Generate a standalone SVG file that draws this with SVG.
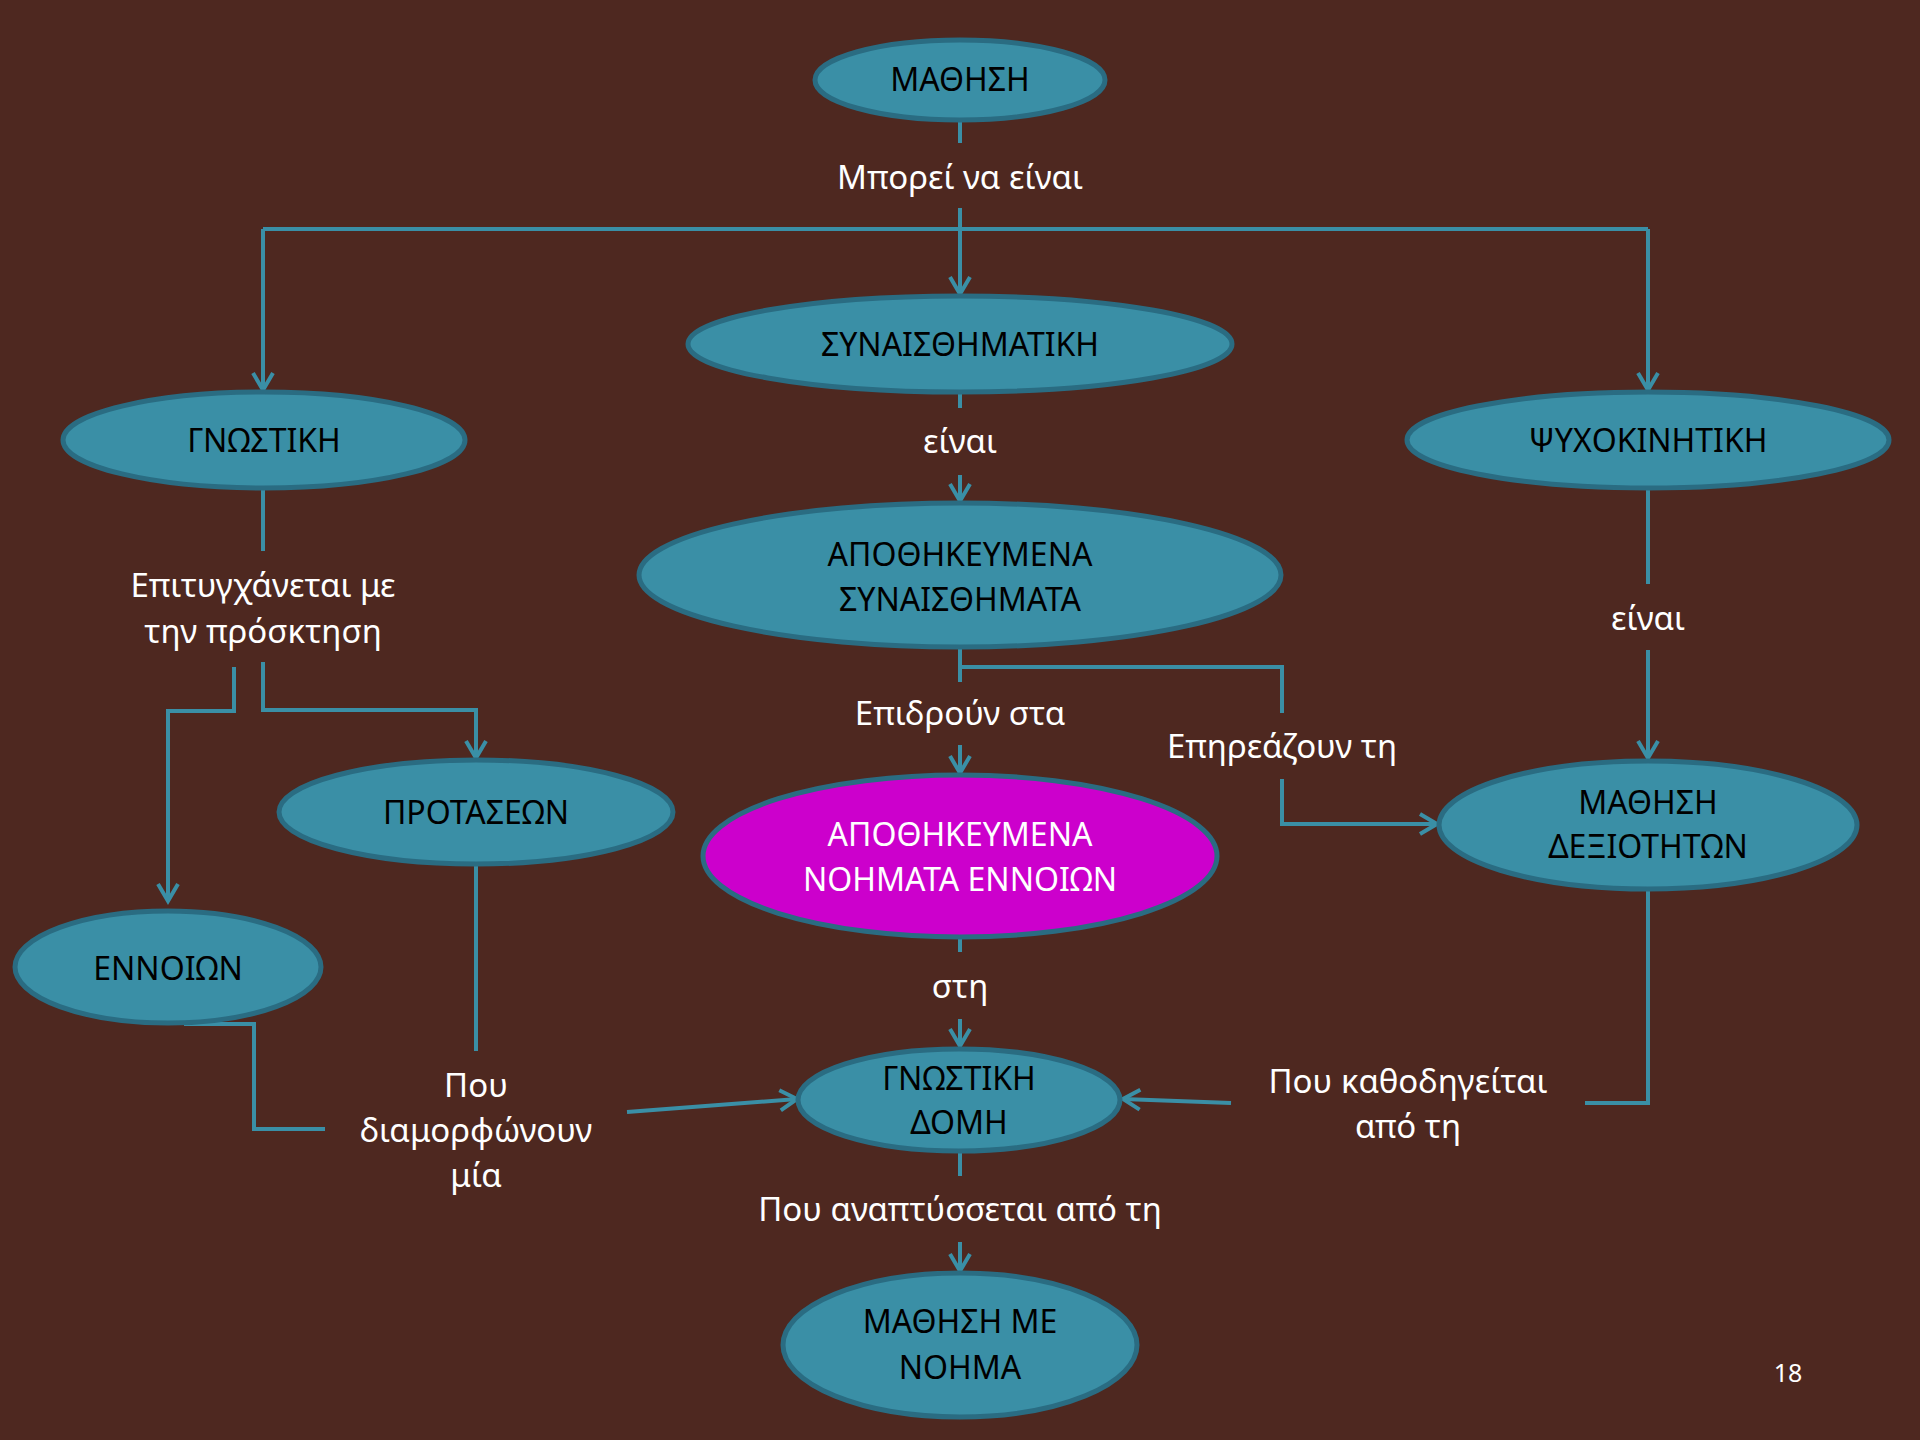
<svg xmlns="http://www.w3.org/2000/svg" width="1920" height="1440" viewBox="0 0 1920 1440">
<defs>
<style>
.n{fill:#3A8FA6;stroke:#2A6C82;stroke-width:5}
.m{fill:#CC00CC;stroke:#2A6C82;stroke-width:5}
.nt{font-family:"Noto Sans","Open Sans",sans-serif;font-size:32px;fill:#000;text-anchor:middle}
.mt{font-family:"Noto Sans","Open Sans",sans-serif;font-size:32px;fill:#fff;text-anchor:middle}
.lt{font-family:"Noto Sans","Open Sans",sans-serif;font-size:33px;fill:#fff;text-anchor:middle}
.c{fill:none;stroke:#3A8FA6;stroke-width:4}
.a{marker-end:url(#arr)}
</style>
<marker id="arr" markerUnits="userSpaceOnUse" markerWidth="40" markerHeight="40" refX="0" refY="0" viewBox="-20 -20 40 40" orient="auto" overflow="visible">
<path d="M-17,-10 L0,0 L-17,10" fill="none" stroke="#3A8FA6" stroke-width="4"/>
</marker>
</defs>
<rect width="1920" height="1440" fill="#4E2820"/>

<g id="connectors">
<path class="c" d="M960,120 V143"/>
<path class="c a" d="M960,208 V294"/>
<path class="c" d="M960,229 H263"/>
<path class="c a" d="M263,229 V390"/>
<path class="c" d="M960,229 H1648"/>
<path class="c a" d="M1648,229 V390"/>
<path class="c" d="M960,393 V408"/>
<path class="c a" d="M960,475 V501"/>
<path class="c" d="M263,489 V551"/>
<path class="c a" d="M234,667 V711 H168 V901"/>
<path class="c a" d="M263,662 V710 H476 V758"/>
<path class="c" d="M1648,489 V584"/>
<path class="c a" d="M1648,650 V758"/>
<path class="c" d="M960,647 V682"/>
<path class="c" d="M960,667 H1282 V713"/>
<path class="c a" d="M1282,779 V824 H1437"/>
<path class="c a" d="M960,745 V773"/>
<path class="c" d="M960,937 V952"/>
<path class="c a" d="M960,1019 V1046"/>
<path class="c" d="M476,864 V1051"/>
<path class="c" d="M184,1024 H254 V1129 H325"/>
<path class="c a" d="M627,1112 L797,1099"/>
<path class="c" d="M1648,889 V1103 H1585"/>
<path class="c a" d="M1231,1103 L1123,1099"/>
<path class="c" d="M960,1151 V1176"/>
<path class="c a" d="M960,1242 V1271"/>
</g>

<g id="n-mathisi"><ellipse class="n" cx="960" cy="80" rx="145" ry="40"/><text class="nt" x="960" y="91">ΜΑΘΗΣΗ</text></g>
<g id="n-synaisthimatiki"><ellipse class="n" cx="960" cy="344" rx="272" ry="48"/><text class="nt" x="960" y="356">ΣΥΝΑΙΣΘΗΜΑΤΙΚΗ</text></g>
<g id="n-gnostiki"><ellipse class="n" cx="264" cy="440" rx="201" ry="48"/><text class="nt" x="264" y="452">ΓΝΩΣΤΙΚΗ</text></g>
<g id="n-psychokinitiki"><ellipse class="n" cx="1648" cy="440" rx="241" ry="48"/><text class="nt" x="1648" y="452">ΨΥΧΟΚΙΝΗΤΙΚΗ</text></g>
<g id="n-apoth-syn"><ellipse class="n" cx="960" cy="575" rx="321" ry="72"/><text class="nt" x="960" y="566">ΑΠΟΘΗΚΕΥΜΕΝΑ</text><text class="nt" x="960" y="611">ΣΥΝΑΙΣΘΗΜΑΤΑ</text></g>
<g id="n-protaseon"><ellipse class="n" cx="476" cy="812" rx="197" ry="52"/><text class="nt" x="476" y="824">ΠΡΟΤΑΣΕΩΝ</text></g>
<g id="n-apoth-noim"><ellipse class="m" cx="960" cy="856" rx="257" ry="81"/><text class="mt" x="960" y="846">ΑΠΟΘΗΚΕΥΜΕΝΑ</text><text class="mt" x="960" y="891">ΝΟΗΜΑΤΑ ΕΝΝΟΙΩΝ</text></g>
<g id="n-mathisi-dexiotiton"><ellipse class="n" cx="1648" cy="825" rx="209" ry="64"/><text class="nt" x="1648" y="814">ΜΑΘΗΣΗ</text><text class="nt" x="1648" y="858">ΔΕΞΙΟΤΗΤΩΝ</text></g>
<g id="n-ennoion"><ellipse class="n" cx="168" cy="967" rx="153" ry="56"/><text class="nt" x="168" y="980">ΕΝΝΟΙΩΝ</text></g>
<g id="n-gnostiki-domi"><ellipse class="n" cx="959" cy="1100" rx="161" ry="51"/><text class="nt" x="959" y="1090">ΓΝΩΣΤΙΚΗ</text><text class="nt" x="959" y="1134">ΔΟΜΗ</text></g>
<g id="n-mathisi-noima"><ellipse class="n" cx="960" cy="1345" rx="177" ry="72"/><text class="nt" x="960" y="1333">ΜΑΘΗΣΗ ΜΕ</text><text class="nt" x="960" y="1379">ΝΟΗΜΑ</text></g>

<g id="labels">
<text class="lt" x="960" y="189">Μπορεί να είναι</text>
<text class="lt" x="960" y="453">είναι</text>
<text class="lt" x="263" y="597">Επιτυγχάνεται με</text>
<text class="lt" x="263" y="643">την πρόσκτηση</text>
<text class="lt" x="1648" y="630">είναι</text>
<text class="lt" x="960" y="725">Επιδρούν στα</text>
<text class="lt" x="1282" y="758">Επηρεάζουν τη</text>
<text class="lt" x="960" y="998">στη</text>
<text class="lt" x="476" y="1097">Που</text>
<text class="lt" x="476" y="1142">διαμορφώνουν</text>
<text class="lt" x="476" y="1187">μία</text>
<text class="lt" x="1408" y="1093">Που καθοδηγείται</text>
<text class="lt" x="1408" y="1138">από τη</text>
<text class="lt" x="960" y="1221">Που αναπτύσσεται από τη</text>
<text x="1788" y="1382" font-family="Noto Sans, sans-serif" font-size="25" fill="#fff" text-anchor="middle">18</text>
</g>
</svg>
